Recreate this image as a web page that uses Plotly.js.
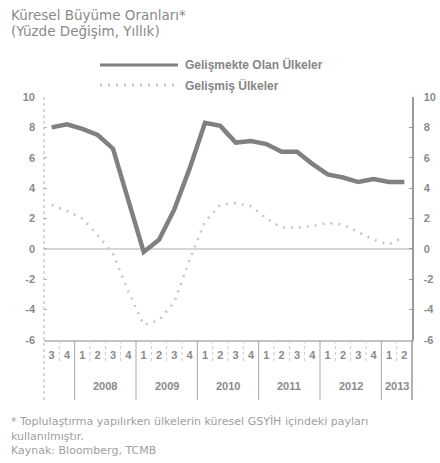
<!DOCTYPE html>
<html><head><meta charset="utf-8">
<script src="https://cdn.plot.ly/plotly-3.0.1.min.js"></script>
<style>body{margin:0;background:#fff}#c{width:440px;height:463px}</style>
</head><body><div id="c"></div>
<script>
// Data (yearly % change), quarterly 2007Q3 - 2013Q2
const quarterLabels = ['3','4','1','2','3','4','1','2','3','4','1','2','3','4','1','2','3','4','1','2','3','4','1','2'];
const yearLabels = ['', '2008', '2009', '2010', '2011', '2012', '2013'];
const yearQuarterCounts = [2, 4, 4, 4, 4, 4, 2];
const emerging = [8.0, 8.2, 7.9, 7.5, 6.6, 3.2, -0.2, 0.6, 2.6, 5.3, 8.3, 8.1, 7.0, 7.1, 6.9, 6.4, 6.4, 5.6, 4.9, 4.7, 4.4, 4.6, 4.4, 4.4];
const developed = [2.9, 2.5, 2.0, 0.9, -0.3, -2.8, -5.0, -4.7, -3.5, -0.7, 1.8, 2.9, 3.0, 2.8, 2.0, 1.4, 1.4, 1.5, 1.7, 1.6, 1.1, 0.6, 0.3, 0.8];
const seriesNames = ['Gelişmekte Olan Ülkeler', 'Gelişmiş Ülkeler'];
const titleLines = ['Küresel Büyüme Oranları*', '(Yüzde Değişim, Yıllık)'];
const footLines = ['* Toplulaştırma yapılırken ülkelerin küresel GSYİH içindeki payları', 'kullanılmıştır.', 'Kaynak: Bloomberg, TCMB'];
const yTicks = [-6, -4, -2, 0, 2, 4, 6, 8, 10];

const W = 440, H = 463, ML = 44, MR = 28, MT = 97, MB = 123;
const PW = W - ML - MR, PH = H - MT - MB;
const px2x = p => (p - ML) / PW;
const py2y = p => 1 - (p - MT) / PH;

const xs = quarterLabels.map((_, i) => i + 0.5);
const emColor = '#808080', dvColor = '#c9c4be', txt = '#8a8a8a';
const font = 'Liberation Sans, Arial, sans-serif';

const traces = [
  {x: xs, y: emerging, type: 'scatter', mode: 'lines', name: seriesNames[0],
   line: {color: emColor, width: 4.5}, showlegend: false},
  {x: xs, y: developed, type: 'scatter', mode: 'lines', name: seriesNames[1],
   line: {color: dvColor, width: 2.5, dash: '2px,6px'}, showlegend: false},
  {x: [xs[0]], y: [null], yaxis: 'y2', type: 'scatter', mode: 'lines', showlegend: false, hoverinfo: 'skip'}
];

const shapes = [];
const yearBounds = [0];
yearQuarterCounts.forEach(c => yearBounds.push(yearBounds[yearBounds.length - 1] + c));
for (let b = 1; b < quarterLabels.length; b++) {
  const isYear = yearBounds.includes(b);
  shapes.push({type: 'line', xref: 'x', yref: 'paper', x0: b, x1: b, y0: 0,
    y1: isYear ? py2y(400) : py2y(362),
    line: {color: isYear ? '#a8a8a8' : '#c8c8c8', width: 1, dash: isYear ? 'solid' : 'dot'}});
}
shapes.push({type: 'line', xref: 'paper', yref: 'paper', x0: 0, x1: 0, y0: 1, y1: py2y(400),
  line: {color: '#a9b3c6', width: 1, dash: 'dot'}});
shapes.push({type: 'line', xref: 'paper', yref: 'paper', x0: 1, x1: 1, y0: 0, y1: py2y(400),
  line: {color: '#9a9a9a', width: 1.5}});
// legend samples
shapes.push({type: 'line', xref: 'paper', yref: 'paper', x0: px2x(100), x1: px2x(178), y0: py2y(65), y1: py2y(65),
  line: {color: emColor, width: 3}});
shapes.push({type: 'line', xref: 'paper', yref: 'paper', x0: px2x(100), x1: px2x(178), y0: py2y(85), y1: py2y(85),
  line: {color: dvColor, width: 2.5, dash: '2px,6px'}});

const annotations = [];
let acc = 0;
yearQuarterCounts.forEach((c, k) => {
  if (yearLabels[k]) annotations.push({xref: 'x', yref: 'paper', x: acc + c / 2, y: py2y(386),
    text: yearLabels[k], showarrow: false, yanchor: 'middle',
    font: {family: font, size: 11, color: txt, weight: 'bold'}});
  acc += c;
});
annotations.push({xref: 'paper', yref: 'paper', x: px2x(183), y: py2y(65), xanchor: 'left', yanchor: 'middle',
  text: seriesNames[0], showarrow: false, font: {family: font, size: 12, color: '#858585', weight: 'bold'}});
annotations.push({xref: 'paper', yref: 'paper', x: px2x(183), y: py2y(85), xanchor: 'left', yanchor: 'middle',
  text: seriesNames[1], showarrow: false, font: {family: font, size: 12, color: '#858585', weight: 'bold'}});
const footY = [421, 436, 450];
footLines.forEach((t, i) => annotations.push({xref: 'paper', yref: 'paper', x: px2x(9), y: py2y(footY[i]),
  xanchor: 'left', yanchor: 'middle', text: t, showarrow: false,
  font: {family: 'DejaVu Sans, sans-serif', size: 11, color: '#a0a0a0'}}));
const titleY = [15, 31];
titleLines.forEach((t, i) => annotations.push({xref: 'paper', yref: 'paper', x: px2x(9), y: py2y(titleY[i]),
  xanchor: 'left', yanchor: 'middle', text: t, showarrow: false,
  font: {family: 'DejaVu Sans, sans-serif', size: 13.5, color: txt}}));

const yTickText = yTicks.map(v => String(v));
const layout = {
  width: W, height: H, margin: {l: ML, r: MR, t: MT, b: MB, pad: 0},
  paper_bgcolor: '#fff', plot_bgcolor: '#fff',
  xaxis: {range: [0, quarterLabels.length], tickvals: xs, ticktext: quarterLabels, ticks: '',
    showgrid: false, zeroline: false, showline: true, linecolor: '#c4c4c4', linewidth: 1.5,
    tickfont: {family: font, size: 11, color: txt, weight: 'bold'}, ticklabelstandoff: 4, fixedrange: true},
  yaxis: {range: [-6, 10], tickvals: yTicks, ticktext: yTickText, showgrid: false, zeroline: true, zerolinecolor: '#d6d6d6',
    zerolinewidth: 1.5, showline: false, ticks: 'inside', ticklen: 3, tickcolor: '#a9b3c6',
    tickfont: {family: font, size: 11, color: txt, weight: 'bold'}, ticklabelstandoff: 8},
  yaxis2: {range: [-6, 10], tickvals: yTicks, ticktext: yTickText, overlaying: 'y', side: 'right', showgrid: false, zeroline: false,
    showline: true, linecolor: '#9a9a9a', linewidth: 1.5, ticks: 'inside', ticklen: 3, tickcolor: '#9a9a9a',
    tickfont: {family: font, size: 11, color: txt, weight: 'bold'}, ticklabelstandoff: 8},
  shapes: shapes, annotations: annotations, showlegend: false
};
Plotly.newPlot('c', traces, layout, {staticPlot: true});
</script>
</body></html>
